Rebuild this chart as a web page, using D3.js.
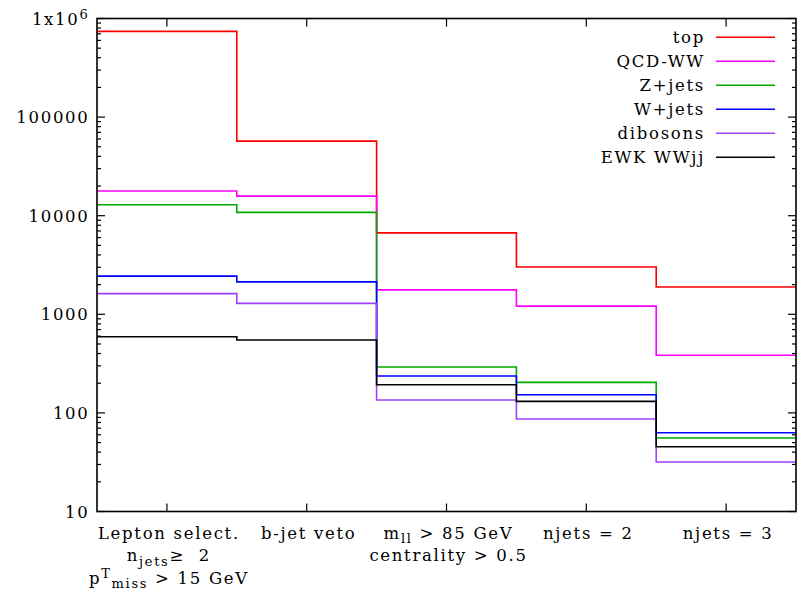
<!DOCTYPE html>
<html>
<head>
<meta charset="utf-8">
<script src="https://cdn.jsdelivr.net/npm/d3@7"></script>
<style>
  html, body { margin: 0; padding: 0; background: #fff; }
  svg { display: block; }
  text { font-family: "DejaVu Serif", serif; font-size: 16.5px; letter-spacing: 1.7px; fill: #000; white-space: pre; }
</style>
</head>
<body>
<svg id="chart" width="801" height="599"></svg>
<script>
// Cut-flow stages (multi-line labels; _{..} subscript, ^{..} superscript)
const stages = ["lep", "bveto", "mll", "nj2", "nj3"];
const stageLabels = [
  ["Lepton select.", "n_{jets}≥  2", "p^{T}_{miss} > 15 GeV"],
  ["b-jet veto"],
  ["m_{ll} > 85 GeV", "centrality > 0.5"],
  ["njets = 2"],
  ["njets = 3"]
];

// Event yields per stage for each process
const seriesNames = ["top", "QCD-WW", "Z+jets", "W+jets", "dibosons", "EWK WWjj"];
const topYield      = [740000, 57000, 6700, 3020, 1890];
const qcdWWYield    = [17800, 15800, 1770, 1210, 384];
const zJetsYield    = [12900, 10800, 292, 204, 55.6];
const wJetsYield    = [2440, 2130, 237, 153, 63];
const dibosonYield  = [1620, 1290, 135, 86.7, 31.8];
const ewkWWjjYield  = [593, 548, 193, 131, 45.4];
const seriesValues = [topYield, qcdWWYield, zJetsYield, wJetsYield, dibosonYield, ewkWWjjYield];
const seriesColors = ["#ff0000", "#ff00ff", "#00a800", "#0000ff", "#a040ff", "#000000"];

// Y axis ticks
const yTickValues = [10, 100, 1000, 10000, 100000, 1000000];
const yTickLabels = ["10", "100", "1000", "10000", "100000", "1x10^{6}"];

const svg = d3.select("#chart");
const plotLeft = 97, plotRight = 796, plotTop = 18.5, plotBottom = 511.5;
const fontSize = 16.5;

const x = d3.scaleBand().domain(stages).range([plotLeft, plotRight]).paddingInner(0).paddingOuter(0);
const y = d3.scaleLog().domain([10, 1e6]).range([plotBottom, plotTop]);

// Minor log ticks (2..9 per decade)
const minorTicks = [];
for (let d = 10; d < 1e6; d *= 10) for (let k = 2; k <= 9; k++) minorTicks.push(d * k);

const axisG = svg.append("g").attr("stroke", "#000").attr("stroke-width", 1.2);

// left / right ticks (inward)
[[plotLeft, 1], [plotRight, -1]].forEach(([xx, dir]) => {
  axisG.selectAll(null).data(yTickValues).enter().append("line")
    .attr("x1", xx).attr("x2", xx + dir * 8)
    .attr("y1", d => y(d)).attr("y2", d => y(d));
  axisG.selectAll(null).data(minorTicks).enter().append("line")
    .attr("x1", xx).attr("x2", xx + dir * 4)
    .attr("y1", d => y(d)).attr("y2", d => y(d));
});
// bottom / top ticks at stage centres
const cx = d => x(d) + x.bandwidth() / 2;
[[plotBottom, -1], [plotTop, 1]].forEach(([yy, dir]) => {
  axisG.selectAll(null).data(stages).enter().append("line")
    .attr("x1", cx).attr("x2", cx)
    .attr("y1", yy).attr("y2", yy + dir * 8);
});

// Rich text helper: parses _{..} and ^{..}
function richText(sel, str, baseSize) {
  const re = /([_^])\{([^}]*)\}/g;
  let last = 0, m, shift = 0;
  const parts = [];
  while ((m = re.exec(str)) !== null) {
    if (m.index > last) parts.push({ t: str.slice(last, m.index), s: 0 });
    parts.push({ t: m[2], s: m[1] === "_" ? 1 : -1 });
    last = re.lastIndex;
  }
  if (last < str.length) parts.push({ t: str.slice(last), s: 0 });
  parts.forEach(p => {
    const off = p.s === 1 ? 4.5 : p.s === -1 ? -6 : 0;
    const ts = sel.append("tspan").text(p.t).attr("dy", off - shift);
    if (p.s !== 0) ts.style("font-size", (baseSize - 3.5) + "px");
    shift = off;
  });
}

// Y tick labels
yTickLabels.forEach((lab, i) => {
  const t = svg.append("text")
    .attr("x", plotLeft - 7.5).attr("y", y(yTickValues[i]) + 6)
    .attr("text-anchor", "end");
  richText(t, lab, fontSize);
});

// Stage labels
stages.forEach((s, i) => {
  stageLabels[i].forEach((ln, j) => {
    const t = svg.append("text")
      .attr("x", cx(s) + 2).attr("y", 538.5 + 22.5 * j)
      .attr("text-anchor", "middle");
    richText(t, ln, fontSize);
  });
});

// Step curves
const stepLine = d3.line().x(d => d[0]).y(d => d[1]).curve(d3.curveStepAfter);
seriesValues.forEach((vals, k) => {
  const pts = stages.map((s, i) => [x(s), y(vals[i])]);
  pts.push([plotRight, y(vals[vals.length - 1])]);
  svg.append("path")
    .attr("d", stepLine(pts))
    .attr("fill", "none")
    .attr("stroke", seriesColors[k])
    .attr("stroke-width", 1.6);
});

// Frame
svg.append("rect")
  .attr("x", plotLeft).attr("y", plotTop)
  .attr("width", plotRight - plotLeft).attr("height", plotBottom - plotTop)
  .attr("fill", "none").attr("stroke", "#000").attr("stroke-width", 1.6);

// Legend
const legend = svg.append("g");
seriesNames.forEach((n, k) => {
  const ly = 37.3 + 24 * k;
  legend.append("text")
    .attr("x", 705).attr("y", ly + 6)
    .attr("text-anchor", "end").text(n);
  legend.append("line")
    .attr("x1", 716).attr("x2", 775).attr("y1", ly).attr("y2", ly)
    .attr("stroke", seriesColors[k]).attr("stroke-width", 1.6);
});
</script>
</body>
</html>
